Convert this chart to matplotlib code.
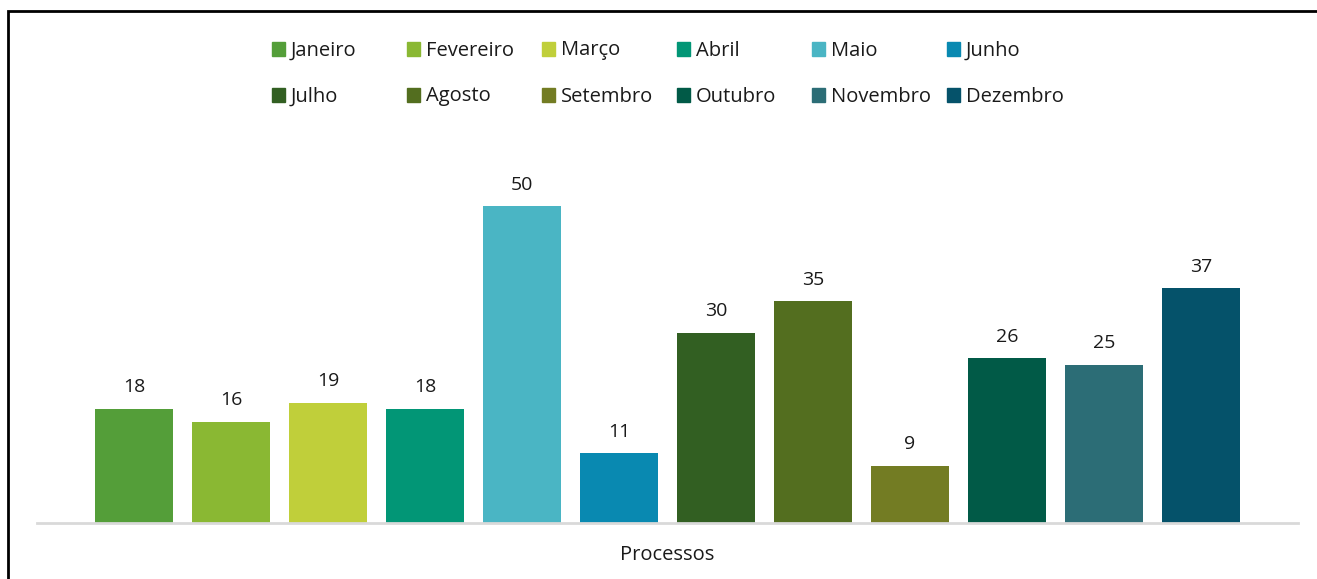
import matplotlib.pyplot as plt
import matplotlib.patches as mpatches

plt.rcParams['font.family'] = ['Open Sans', 'DejaVu Sans']

# data
months = ["Janeiro", "Fevereiro", "Março", "Abril", "Maio", "Junho",
          "Julho", "Agosto", "Setembro", "Outubro", "Novembro", "Dezembro"]
values = [18, 16, 19, 18, 50, 11, 30, 35, 9, 26, 25, 37]
colors = ["#549E39", "#8AB833", "#C0CF3A", "#029676", "#4AB5C4", "#0989B1",
          "#325F22", "#536E1F", "#737C23", "#015A47", "#2C6D76", "#05526A"]
category = "Processos"

W, H = 1317, 579
fig = plt.figure(figsize=(W / 100, H / 100), dpi=100)

# axes placed in pixel terms
ax_left, ax_right, ax_base = 37, 1298, 523
ymax = 57
px_per_unit = 6.34
ax_top = ax_base - ymax * px_per_unit
ax = fig.add_axes([ax_left / W, (H - ax_base) / H,
                   (ax_right - ax_left) / W, (ax_base - ax_top) / H])

x = list(range(len(values)))
bars = ax.bar(x, values, width=0.804, color=colors, zorder=2)
for b, v in zip(bars, values):
    ax.annotate(str(v), (b.get_x() + b.get_width() / 2, v),
                xytext=(0, 9), textcoords="offset points",
                ha="center", va="bottom", fontsize=14, color="#1a1a1a")

ax.set_xlim(-1, 12)
ax.set_ylim(0, ymax)
ax.set_yticks([])
ax.set_xticks([])
for s in ["top", "right", "left"]:
    ax.spines[s].set_visible(False)
ax.spines["bottom"].set_color("#d9d9d9")
ax.spines["bottom"].set_linewidth(2)

fig.text(667 / W, 1 - 555 / H, category, ha="center", va="center",
         fontsize=14.5, color="#1a1a1a")

# legend laid out in a fixed grid, two rows of six
col0, col_step = 272, 135
row_y = [49, 95]
sq = 13
for i, (name, c) in enumerate(zip(months, colors)):
    r, col = divmod(i, 6)
    px = col0 + col * col_step
    py = row_y[r]
    fig.add_artist(mpatches.Rectangle((px / W, 1 - (py + sq / 2) / H), sq / W, sq / H,
                                      transform=fig.transFigure, color=c))
    fig.text((px + 19) / W, 1 - (py + 1.5) / H, name, ha="left", va="center",
             fontsize=14.5, color="#1a1a1a")

# outer frame (top and left edges visible)
fig.add_artist(mpatches.Rectangle((7.5 / W, -0.1), 1.2, 1.1 - 11.5 / H,
                                  transform=fig.transFigure, fill=False,
                                  edgecolor="black", linewidth=2))

fig.savefig("out.png", dpi=100)
